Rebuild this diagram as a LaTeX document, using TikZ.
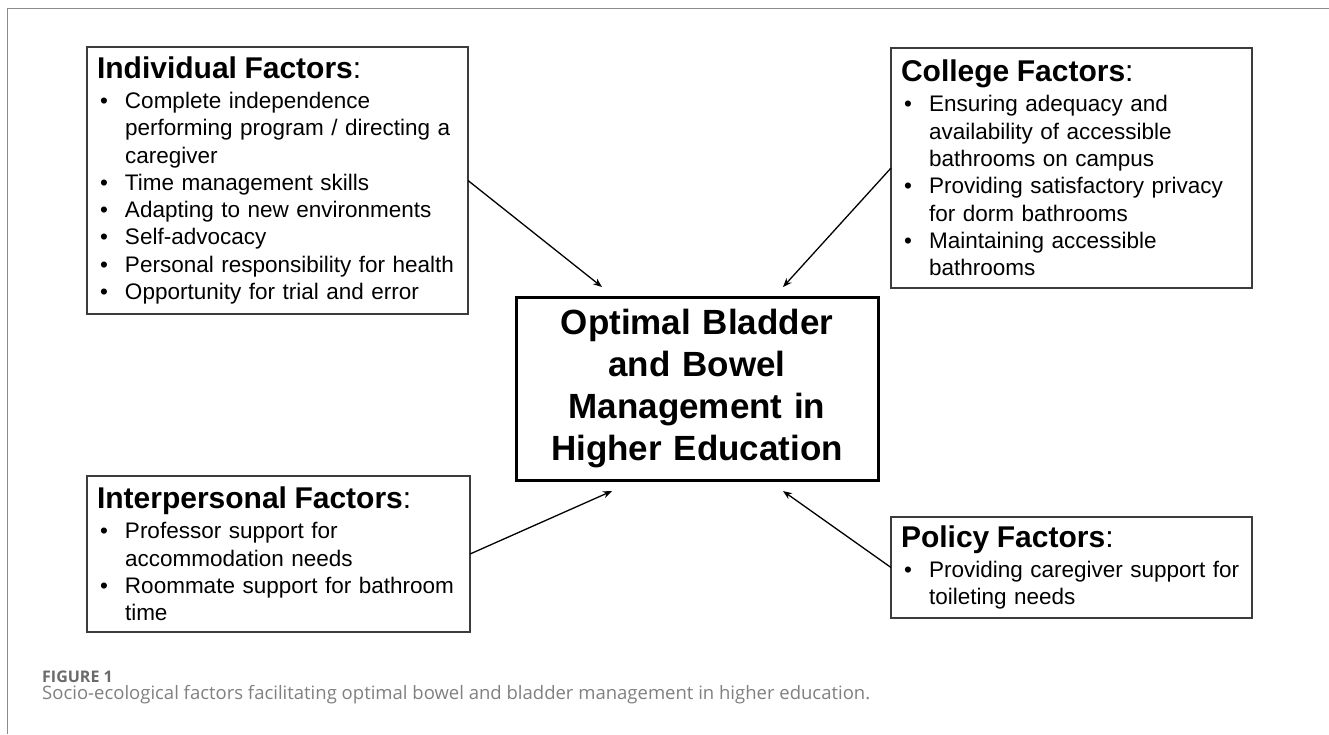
\documentclass[tikz,border=0pt]{standalone}
\usepackage{fontspec}
\setmainfont{Liberation Sans}
\newfontfamily\captionfont{Open Sans}
\usetikzlibrary{arrows.meta}

\definecolor{framegrey}{HTML}{8C8C8C}
\definecolor{boxgrey}{HTML}{3C3C3C}
\definecolor{captiongrey}{HTML}{808080}
\definecolor{labelgrey}{HTML}{6A6A6A}

% heading and bullet lines inside the factor boxes
\newcommand{\factorhead}[1]{\noindent{\fontsize{30}{30}\selectfont\textbf{#1}:}\par\vspace{2.7pt}}
\newcommand{\factoritem}[1]{\par\hangindent=28pt\hangafter=1\noindent\makebox[28pt][l]{\hspace{3pt}\textbullet}#1\par}

\tikzset{
	factorbox/.style={draw=boxgrey, line width=1.3pt, anchor=north west, outer sep=0pt,
		inner xsep=10pt, inner ysep=0pt, align=left, font=\fontsize{22.5}{27.3}\selectfont},
	centrebox/.style={draw=black, line width=3pt, anchor=north west, outer sep=0pt,
		inner xsep=10pt, align=center, font=\fontsize{35}{42}\selectfont\bfseries},
	factorarrow/.style={line width=1.3pt, -{Stealth[length=9pt,width=7pt]}}
}

\begin{document}
\begin{tikzpicture}[x=1pt, y=-1pt]
		%%%%% START %%%%%
		\useasboundingbox (0,0) rectangle (1329,734);
		
		\draw[framegrey, line width=1.5pt] (1329,8.5) -- (7.5,8.5) -- (7.5,734);
		
		\node[factorbox, text width=361pt, minimum height=267pt] (individual) at (87,47) {%
			\factorhead{Individual Factors}%
			\factoritem{Complete independence\newline performing program / directing a\newline caregiver}%
			\factoritem{Time management skills}%
			\factoritem{Adapting to new environments}%
			\factoritem{Self-advocacy}%
			\factoritem{Personal responsibility for health}%
			\factoritem{Opportunity for trial and error}};
		
		\node[factorbox, text width=341pt, minimum height=240pt] (college) at (891,48) {%
			\factorhead{College Factors}%
			\factoritem{Ensuring adequacy and\newline availability of accessible\newline bathrooms on campus}%
			\factoritem{Providing satisfactory privacy\newline for dorm bathrooms}%
			\factoritem{Maintaining accessible\newline bathrooms}};
		
		\node[factorbox, text width=363pt, minimum height=156pt] (interpersonal) at (87,476) {%
			\factorhead{Interpersonal Factors}%
			\factoritem{Professor support for\newline accommodation needs}%
			\factoritem{Roommate support for bathroom\newline time}};
		
		\node[factorbox, text width=341pt, minimum height=101pt] (policy) at (891,517) {%
			\factorhead{Policy Factors}%
			\factoritem{Providing caregiver support for\newline toileting needs}};
		
		\node[centrebox, text width=342pt, minimum height=183pt] (centre) at (516,297)
			{Optimal Bladder\\ and Bowel\\ Management in\\ Higher Education};
		
		\coordinate (intoIndividual) at ([xshift=86pt, yshift=10pt]centre.north west);
		\coordinate (intoCollege) at ([xshift=-95pt, yshift=10pt]centre.north east);
		\coordinate (intoInterpersonal) at ([xshift=96pt, yshift=-11pt]centre.south west);
		\coordinate (intoPolicy) at ([xshift=-95pt, yshift=-11pt]centre.south east);
		
		\draw[factorarrow] (individual.east) -- (intoIndividual);
		\draw[factorarrow] (college.west) -- (intoCollege);
		\draw[factorarrow] (interpersonal.east) -- (intoInterpersonal);
		\draw[factorarrow] (policy.west) -- (intoPolicy);
		
		\node[anchor=base west, inner sep=0pt, text=labelgrey,
			font=\fontsize{16}{16}\selectfont\captionfont\bfseries] (figlabel) at (42,682) {FIGURE 1};
		\node[anchor=base west, inner sep=0pt, text=captiongrey,
			font=\fontsize{18.5}{18.5}\selectfont\captionfont] (caption) at (42,699)
			{Socio-ecological factors facilitating optimal bowel and bladder management in higher education.};
		
		%%%%% END %%%%%
\end{tikzpicture}
\end{document}
